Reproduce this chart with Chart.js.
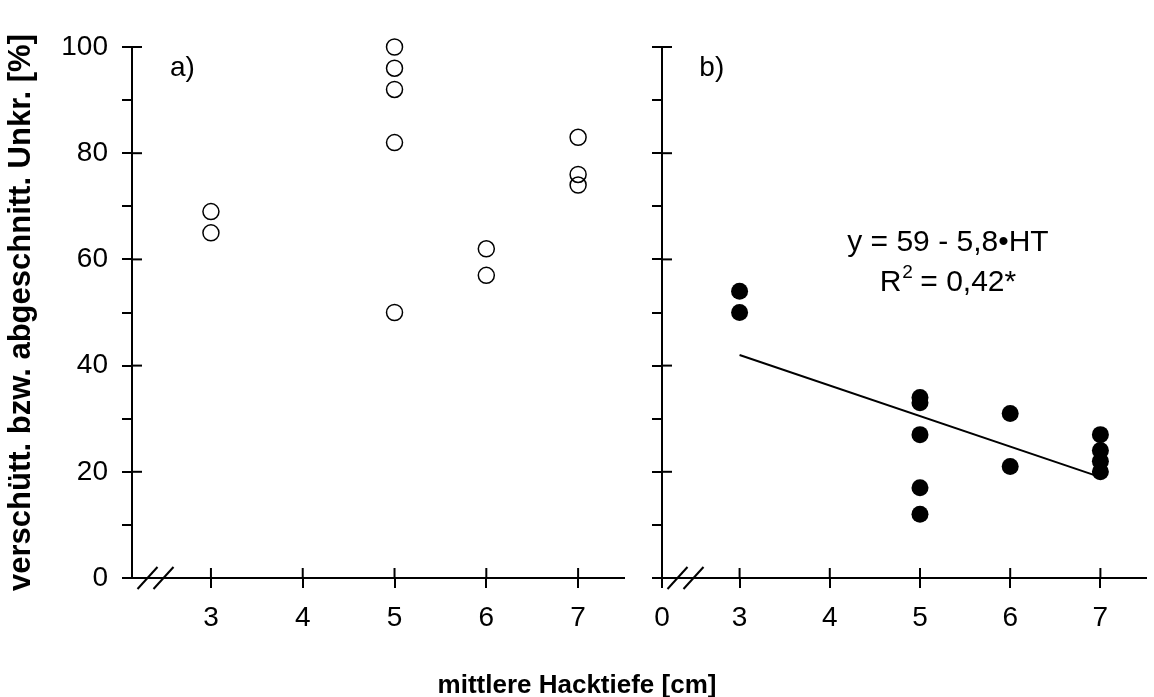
<!DOCTYPE html>
<html><head><meta charset="utf-8">
<script src="https://cdn.jsdelivr.net/npm/chart.js@4.4.1/dist/chart.umd.min.js"></script>
<style>
html,body{margin:0;padding:0;background:#fff;width:1154px;height:697px;overflow:hidden}
#wrap{position:relative;width:1154px;height:697px;background:#fff}
canvas{position:absolute;top:0}
#ca{left:0}
#cb{left:640px}
#xt{position:absolute;left:0;width:1154px;text-align:center;top:669px;line-height:26px;font:bold 26px 'Liberation Sans',Arial,sans-serif;color:#000}
</style></head>
<body><div id="wrap">
<canvas id="ca" width="640" height="697"></canvas>
<canvas id="cb" width="514" height="697"></canvas>
<div id="xt">mittlere Hacktiefe [cm]</div>
</div>
<script>
// ---- data ----
const xTicks = [3, 4, 5, 6, 7];
const xTickLabelsA = ['3', '4', '5', '6', '7'];
const xTickLabelsB = ['0', '3', '4', '5', '6', '7'];
const yTickLabels = ['0', '20', '40', '60', '80', '100'];
const depthA = [3, 3, 5, 5, 5, 5, 5, 6, 6, 7, 7, 7];
const weedsA = [69, 65, 100, 96, 92, 82, 50, 62, 57, 83, 76, 74];
const depthB = [3, 3, 5, 5, 5, 5, 5, 6, 6, 7, 7, 7, 7];
const weedsB = [54, 50, 34, 33, 27, 17, 12, 31, 21, 27, 24, 22, 20];
const fitX = [3, 7];
const fitY = [42, 19];
const yTitle = 'verschütt. bzw. abgeschnitt. Unkr. [%]';
const eqLine1 = 'y = 59 - 5,8\u2022HT';
const eqR = 'R';
const eqSup = '2';
const eqRest = ' = 0,42*';

// axis break: the visible x axis starts at this value (labelled "0" in panel b)
const X_BREAK = 2.14;
const X_END = 7.5;

const FONT = "'Liberation Sans', Arial, sans-serif";

function pts(xs, ys) { return xs.map((x, i) => ({x: x, y: ys[i]})); }

const axisDecor = {
  id: 'axisDecor',
  afterDraw(chart) {
    const ctx = chart.ctx, a = chart.chartArea;
    const xs = chart.scales.x, ys = chart.scales.y;
    ctx.save();
    ctx.strokeStyle = '#000';
    ctx.lineWidth = 2;
    ctx.lineCap = 'butt';
    // inner halves of major ticks (they cross the axis)
    ys.ticks.forEach(t => {
      if (t.value % 20 === 0) {
        const p = ys.getPixelForValue(t.value);
        ctx.beginPath(); ctx.moveTo(a.left, p); ctx.lineTo(a.left + 10, p); ctx.stroke();
      }
    });
    xs.ticks.forEach(t => {
      const p = xs.getPixelForValue(t.value);
      ctx.beginPath(); ctx.moveTo(p, a.bottom); ctx.lineTo(p, a.bottom - 10); ctx.stroke();
    });
    // break marks
    [15.5, 31.5].forEach(off => {
      const cx = a.left + off, cy = a.bottom;
      ctx.beginPath(); ctx.moveTo(cx - 10, cy + 11); ctx.lineTo(cx + 10, cy - 11); ctx.stroke();
    });
    // panel text
    const o = chart.options.plugins.panelText;
    ctx.fillStyle = '#000';
    ctx.textBaseline = 'alphabetic';
    ctx.font = '28px ' + FONT;
    ctx.textAlign = 'left';
    ctx.fillText(o.label, xs.getPixelForValue(2.554), ys.getPixelForValue(94.5));
    if (o.eq) {
      const cx = xs.getPixelForValue(5.31);
      ctx.textAlign = 'center';
      ctx.font = '30px ' + FONT;
      ctx.fillText(eqLine1, cx, ys.getPixelForValue(61.6));
      const by = ys.getPixelForValue(54.0);
      const wR = ctx.measureText(eqR).width;
      const wRest = ctx.measureText(eqRest).width;
      ctx.font = '19px ' + FONT;
      const wS = ctx.measureText(eqSup).width;
      const total = wR + wS + wRest;
      let x0 = cx - total / 2;
      ctx.textAlign = 'left';
      ctx.font = '30px ' + FONT;
      ctx.fillText(eqR, x0, by);
      ctx.font = '19px ' + FONT;
      ctx.fillText(eqSup, x0 + wR + 1, by - 13);
      ctx.font = '30px ' + FONT;
      ctx.fillText(eqRest, x0 + wR + wS, by);
    }
    ctx.restore();
  }
};

function makeOptions(isA) {
  return {
    responsive: false,
    devicePixelRatio: 1,
    animation: false,
    layout: {padding: {top: 47, right: isA ? 16 : 0, bottom: 0, left: 0}},
    plugins: {
      legend: {display: false},
      tooltip: {enabled: false},
      panelText: {label: isA ? 'a)' : 'b)', eq: !isA}
    },
    scales: {
      x: {
        type: 'linear',
        min: X_BREAK,
        max: X_END,
        afterBuildTicks: s => {
          const vals = isA ? xTicks : [X_BREAK].concat(xTicks);
          s.ticks = vals.map(v => ({value: v}));
        },
        afterFit: s => { s.height = 119; },
        grid: {display: true, drawOnChartArea: false, drawTicks: true, tickLength: 10, color: '#000', lineWidth: 2},
        border: {display: true, color: '#000', width: 2},
        ticks: {
          autoSkip: false, maxRotation: 0, padding: 13, color: '#000',
          font: {family: FONT, size: 28},
          callback: (v, i) => (isA ? xTickLabelsA : xTickLabelsB)[i]
        }
      },
      y: {
        type: 'linear',
        min: 0,
        max: 100,
        afterFit: s => { s.width = isA ? 132 : 22; },
        grid: {display: true, drawOnChartArea: false, drawTicks: true, tickLength: 10, color: '#000', lineWidth: 2},
        border: {display: true, color: '#000', width: 2},
        ticks: {
          stepSize: 10, padding: 14, color: '#000',
          font: {family: FONT, size: 28},
          callback: v => (isA && v % 20 === 0) ? yTickLabels[v / 20] : ''
        },
        title: {
          display: isA, text: yTitle, color: '#000',
          font: {family: FONT, size: 31, weight: 'bold'},
          padding: {top: 3, bottom: 0}
        }
      }
    }
  };
}

new Chart(document.getElementById('ca'), {
  type: 'scatter',
  data: {
    datasets: [{
      data: pts(depthA, weedsA),
      pointStyle: 'circle', pointRadius: 8, pointHoverRadius: 8,
      backgroundColor: 'rgba(255,255,255,0)', borderColor: '#000', borderWidth: 1.5,
      clip: false
    }]
  },
  options: makeOptions(true),
  plugins: [axisDecor]
});

new Chart(document.getElementById('cb'), {
  type: 'scatter',
  data: {
    datasets: [{
      data: pts(depthB, weedsB),
      pointStyle: 'circle', pointRadius: 8.5, pointHoverRadius: 8.5,
      backgroundColor: '#000', borderColor: '#000', borderWidth: 0,
      clip: false
    }, {
      data: pts(fitX, fitY),
      showLine: true, pointRadius: 0, borderColor: '#000', borderWidth: 2,
      clip: false
    }]
  },
  options: makeOptions(false),
  plugins: [axisDecor]
});
</script>
</body></html>
